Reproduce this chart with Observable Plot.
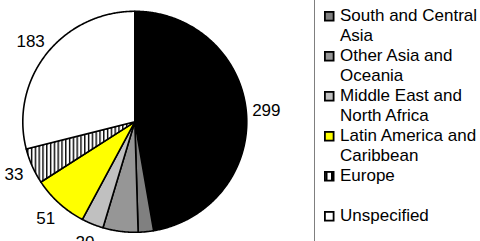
<!DOCTYPE html>
<html>
<head>
<meta charset="utf-8">
<script src="https://cdn.jsdelivr.net/npm/d3@7"></script>
<script src="https://cdn.jsdelivr.net/npm/@observablehq/plot@0.6"></script>
<style>
  body { margin: 0; background: #fff; font-family: "Liberation Sans", Arial, sans-serif; }
  #wrap { position: relative; width: 480px; height: 241px; overflow: hidden; background: #fff; }
  #chart { position: absolute; left: 0; top: 0; }
  #legend { position: absolute; left: 314px; top: -2px; width: 170px; height: 250px; border-left: 1.5px solid #7f7f7f; }
  .item { position: absolute; left: 9px; font-size: 17px; line-height: 19.5px; color: #000; padding-left: 16px; white-space: nowrap; }
  .item svg { position: absolute; left: 0; top: 5px; }
</style>
</head>
<body>
<div id="wrap">
  <div id="chart"></div>
  <div id="legend"></div>
</div>
<script>
// ---- data ----
const categories = ["Sub-Saharan Africa", "South and Central Asia", "Other Asia and Oceania", "Middle East and North Africa", "Latin America and Caribbean", "Europe", "Unspecified"];
const values = [299, 14, 32, 20, 51, 33, 183];
const colors = ["#000000", "#808080", "#969696", "#c0c0c0", "#ffff00", "url(#stripes)", "#ffffff"];
const legendLines = [null, ["South and Central", "Asia"], ["Other Asia and", "Oceania"], ["Middle East and", "North Africa"], ["Latin America and", "Caribbean"], ["Europe", ""], ["Unspecified"]];

// ---- geometry ----
const W = 480, H = 241;
const cx = 134.3, cy = 121.3, rx = 112, ry = 110.5;
const total = d3.sum(values);
let acc = 0;
const slices = values.map((v, i) => {
  const a0 = acc / total * 2 * Math.PI;
  acc += v;
  const a1 = acc / total * 2 * Math.PI;
  const pts = [{x: 0, y: 0}];
  const n = Math.max(2, Math.ceil((a1 - a0) / (Math.PI / 360)));
  for (let k = 0; k <= n; k++) {
    const a = a0 + (a1 - a0) * k / n;
    pts.push({x: Math.sin(a), y: Math.cos(a)});
  }
  pts.push({x: 0, y: 0});
  const m = (a0 + a1) / 2;
  return {cat: categories[i], value: v, color: colors[i], pts,
          lx: Math.sin(m) * (1 + 20 / rx), ly: Math.cos(m) * (1 + 20 / ry)};
});
// labels lying entirely below the frame are not shown (as in the cropped original)
const labels = slices.filter(s => cy - s.ly * ry - 6 < H);

const plot = Plot.plot({
  width: W, height: H,
  margin: 0,
  x: {domain: [-cx / rx, (W - cx) / rx], axis: null},
  y: {domain: [-(H - cy) / ry, cy / ry], axis: null},
  style: {fontFamily: '"Liberation Sans", Arial, sans-serif', background: "transparent", overflow: "visible"},
  marks: [
    ...slices.map(s => Plot.line(s.pts, {x: "x", y: "y", fill: s.color, stroke: "#000", strokeWidth: 1.6, strokeLinejoin: "round"})),
    Plot.text(labels, {x: "lx", y: "ly", text: d => String(d.value), fontSize: 17, fill: "#000", textAnchor: "middle", lineAnchor: "middle"})
  ]
});

const defs = d3.create("svg:defs");
const pat = defs.append("pattern").attr("id", "stripes").attr("patternUnits", "userSpaceOnUse").attr("width", 3.8).attr("height", 4);
pat.append("rect").attr("width", 3.8).attr("height", 4).attr("fill", "#fff");
pat.append("rect").attr("width", 1.4).attr("height", 4).attr("fill", "#000");
plot.insertBefore(defs.node(), plot.firstChild);
document.getElementById("chart").appendChild(plot);

// ---- legend ----
const legend = document.getElementById("legend");
categories.forEach((c, i) => {
  if (!legendLines[i]) return;
  const k = i - 1;
  const div = document.createElement("div");
  div.className = "item";
  div.style.top = (8 + 40 * k) + "px";
  const fill = colors[i].startsWith("url") ? "#fff" : colors[i];
  let sw = `<svg width="11" height="11"><rect x="0.9" y="0.9" width="8.7" height="8.7" fill="${fill}" stroke="#000" stroke-width="1.8"/>`;
  if (colors[i].startsWith("url")) sw += `<rect x="1.5" y="1" width="2" height="8.5" fill="#000"/><rect x="7" y="1" width="2" height="8.5" fill="#000"/>`;
  sw += `</svg>`;
  div.innerHTML = sw + legendLines[i].map(t => `<div>${t || "&nbsp;"}</div>`).join("");
  legend.appendChild(div);
});
</script>
</body>
</html>
